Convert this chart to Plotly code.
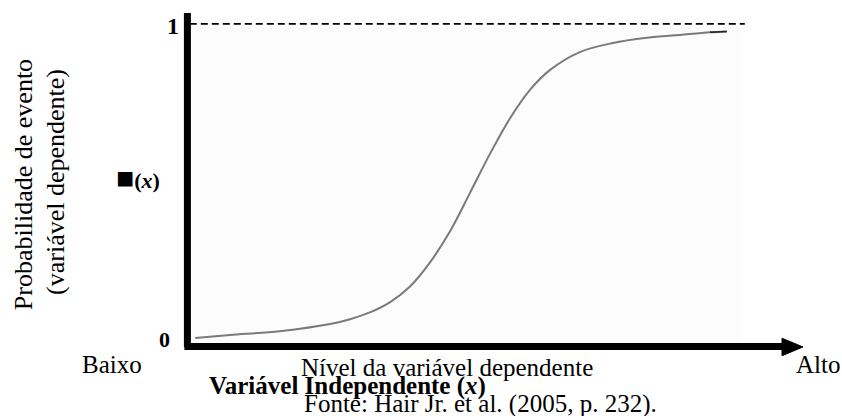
import plotly.graph_objects as go

# Curve (x: level of independent variable, y: probability)
x_level = [0.12, 0.70, 1.53, 2.37, 2.70, 3.03, 3.37, 3.70, 4.03, 4.37, 4.70, 5.03, 5.37,
           5.70, 6.03, 6.53, 7.08, 7.65, 8.20, 8.70, 8.98]
prob = [0.025, 0.034, 0.046, 0.068, 0.083, 0.104, 0.136, 0.184, 0.258, 0.356, 0.474, 0.594,
        0.706, 0.793, 0.854, 0.910, 0.938, 0.954, 0.963, 0.971, 0.974]

y_tick_labels = ["0", "<span style=\"font-size:30px\">■</span>(<i>x</i>)", "1"]
y_title_lines = ["Probabilidade de evento", "(variável dependente)"]
x_low, x_high = "Baixo", "Alto"
x_title = "Nível da variável dependente"
x_subtitle = "<b>Variável Independente (<i>x</i>)</b>"
source = "Fonte: Hair Jr. et al. (2005, p. 232)."

FONT = "Liberation Serif"

fig = go.Figure()
fig.add_trace(go.Scatter(x=x_level, y=prob, mode="lines",
                         line=dict(color="#7a7a7a", width=2, shape="spline", smoothing=1.0),
                         hoverinfo="skip", showlegend=False))
fig.add_trace(go.Scatter(x=x_level[-2:], y=prob[-2:], mode="lines",
                         line=dict(color="#222222", width=1.5),
                         hoverinfo="skip", showlegend=False))

shapes = [
    # faint plot background
    dict(type="rect", xref="paper", yref="paper", x0=0.003, x1=0.92, y0=0.003, y1=0.988,
         fillcolor="#fcfcfc", line=dict(width=0), layer="below"),
    # dashed asymptote at 1
    dict(type="line", xref="paper", yref="y", x0=0.003, x1=0.928, y0=1, y1=1,
         line=dict(color="black", width=3.5, dash="7px,4px")),
    # vertical axis
    dict(type="line", xref="paper", yref="paper", x0=-0.001, x1=-0.001, y0=-0.004, y1=1.031,
         line=dict(color="black", width=7)),
    # horizontal axis
    dict(type="line", xref="paper", yref="paper", x0=-0.006, x1=0.994, y0=-0.0015, y1=-0.0015,
         line=dict(color="black", width=7)),
    # arrow head
    dict(type="path", xref="paper", yref="paper",
         path="M 0.990 0.024 L 1.0250 -0.0030 L 0.990 -0.030 Z",
         fillcolor="black", line=dict(color="black", width=1)),
]

ann = []
def add(text, x, y, size, xanchor="center", angle=0):
    ann.append(dict(text=text, xref="paper", yref="paper", x=x, y=y, xanchor=xanchor,
                    yanchor="middle", showarrow=False, textangle=angle,
                    font=dict(family=FONT, size=size, color="black")))

add("<b>" + y_tick_labels[2] + "</b>", -0.0117, 0.991, 24, xanchor="right")
add("<b>" + y_tick_labels[0] + "</b>", -0.0267, 0.0186, 22, xanchor="right")
add("<b>" + y_tick_labels[1] + "</b>", -0.0433, 0.523, 22, xanchor="right")
add(y_title_lines[0], -0.275, 0.498, 26, angle=-90)
add(y_title_lines[1], -0.22, 0.508, 26, angle=-90)
add(x_low, -0.1267, -0.0588, 25)
add(x_high, 1.05, -0.0588, 25)
add(x_title, 0.4317, -0.0681, 25)
add(x_subtitle, 0.265, -0.1238, 25)
add(source, 0.488, -0.1796, 25)

fig.update_layout(
    width=842, height=416,
    margin=dict(l=188, r=54, t=23, b=70),
    paper_bgcolor="white", plot_bgcolor="white",
    xaxis=dict(range=[0, 10], visible=False, fixedrange=True),
    yaxis=dict(range=[0, 1], visible=False, fixedrange=True),
    shapes=shapes, annotations=ann,
    showlegend=False,
)

fig.write_html("out.html", config={"displayModeBar": False},
               post_script="document.body.style.margin='0';document.body.style.padding='0';")
